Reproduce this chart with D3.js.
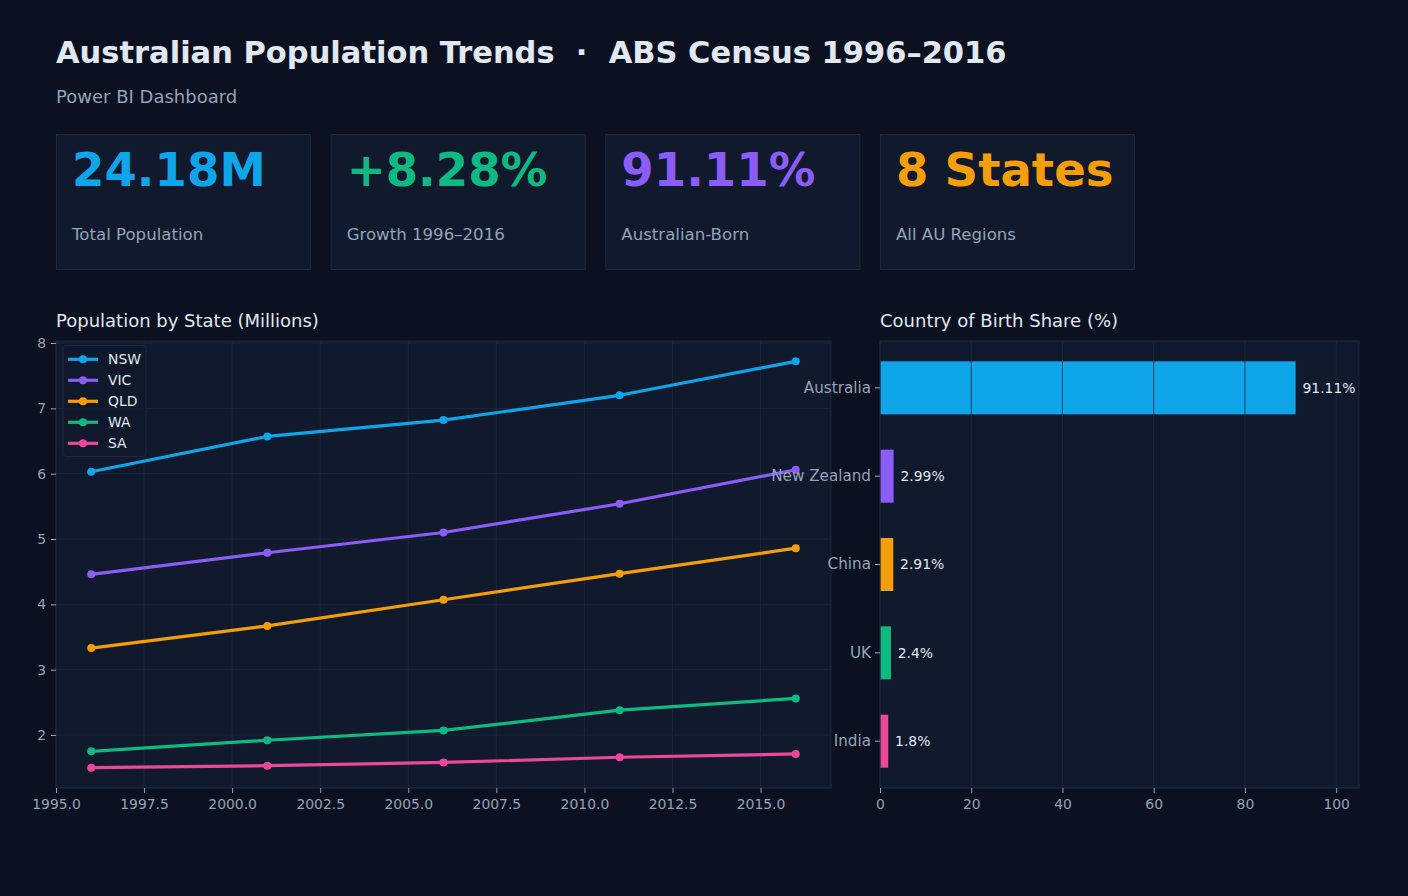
<!DOCTYPE html>
<html><head><meta charset="utf-8">
<script src="https://cdn.jsdelivr.net/npm/d3@7"></script>
<style>
html,body{margin:0;padding:0;background:#0b1120;}
svg{display:block;font-family:"DejaVu Sans",sans-serif;}
text{white-space:pre;}
</style></head>
<body>
<svg id="chart" width="1408" height="896"></svg>
<script>
// ---- data ----
const years = [1996, 2001, 2006, 2011, 2016];
const states = ["NSW", "VIC", "QLD", "WA", "SA"];
const nsw = [6.03, 6.57, 6.82, 7.20, 7.72];
const vic = [4.46, 4.79, 5.10, 5.54, 6.06];
const qld = [3.33, 3.67, 4.07, 4.47, 4.86];
const wa  = [1.75, 1.92, 2.07, 2.38, 2.56];
const sa  = [1.50, 1.53, 1.58, 1.66, 1.71];
const stateColors = ["#0ea5e9", "#8b5cf6", "#f59e0b", "#10b981", "#ec4899"];
const xTicks = [1995.0, 1997.5, 2000.0, 2002.5, 2005.0, 2007.5, 2010.0, 2012.5, 2015.0];
const yTicks = [2, 3, 4, 5, 6, 7, 8];

const countries = ["Australia", "New Zealand", "China", "UK", "India"];
const shares = [91.11, 2.99, 2.91, 2.4, 1.8];
const countryColors = ["#0ea5e9", "#8b5cf6", "#f59e0b", "#10b981", "#ec4899"];
const shareTicks = [0, 20, 40, 60, 80, 100];

const kpiValues = ["24.18M", "+8.28%", "91.11%", "8 States"];
const kpiLabels = ["Total Population", "Growth 1996\u20132016", "Australian-Born", "All AU Regions"];
const kpiColors = ["#0ea5e9", "#10b981", "#8b5cf6", "#f59e0b"];

const BG = "#0b1120", PANEL = "#111a2d", GRID = "#1e293b", MUTED = "#94a3b8", TEXT = "#e2e8f0";

const svg = d3.select("#chart");
svg.append("rect").attr("width", 1408).attr("height", 896).attr("fill", BG);

// ---- header ----
svg.append("text").attr("x", 56).attr("y", 63).attr("fill", TEXT)
  .attr("font-size", "30.5px").attr("font-weight", "bold")
  .text("Australian Population Trends  \u00b7  ABS Census 1996\u20132016");
svg.append("text").attr("x", 56).attr("y", 103).attr("fill", MUTED)
  .attr("font-size", "18px").text("Power BI Dashboard");

// ---- KPI cards ----
const cardX = d3.scaleBand().domain(d3.range(kpiValues.length)).range([56, 1134]).paddingInner(0.075);
kpiValues.forEach((v, i) => {
  const g = svg.append("g").attr("transform", `translate(${cardX(i)},134)`);
  g.append("rect").attr("x", 0.5).attr("y", 0.5).attr("width", cardX.bandwidth()).attr("height", 135)
    .attr("fill", PANEL).attr("stroke", GRID).attr("stroke-width", 1);
  g.append("text").attr("x", 16).attr("y", 52).attr("fill", kpiColors[i])
    .attr("font-size", "46.6px").attr("font-weight", "bold").text(v);
  g.append("text").attr("x", 16).attr("y", 106).attr("fill", MUTED)
    .attr("font-size", "16.6px").text(kpiLabels[i]);
});

// ---- line chart ----
const L = {x0: 56, x1: 831, y0: 341, y1: 788};
svg.append("text").attr("x", 56).attr("y", 327).attr("fill", TEXT).attr("font-size", "18px")
  .text("Population by State (Millions)");
const series = [nsw, vic, qld, wa, sa];
const allVals = series.flat();
const [vmin, vmax] = d3.extent(allVals);
const vpad = (vmax - vmin) * 0.05;
const ypad = (years[years.length-1] - years[0]) * 0.05;
const x = d3.scaleLinear().domain([years[0] - ypad, years[years.length-1] + ypad]).range([L.x0, L.x1]);
const y = d3.scaleLinear().domain([vmin - vpad, vmax + vpad]).range([L.y1, L.y0]);

svg.append("rect").attr("x", L.x0).attr("y", L.y0).attr("width", L.x1 - L.x0).attr("height", L.y1 - L.y0).attr("fill", PANEL);
const gl = svg.append("g");
gl.selectAll(".vg").data(xTicks).join("line")
  .attr("x1", d => x(d)).attr("x2", d => x(d)).attr("y1", L.y0).attr("y2", L.y1)
  .attr("stroke", GRID).attr("stroke-width", 0.8);
gl.selectAll(".hg").data(yTicks).join("line")
  .attr("y1", d => y(d)).attr("y2", d => y(d)).attr("x1", L.x0).attr("x2", L.x1)
  .attr("stroke", GRID).attr("stroke-width", 0.8);
svg.append("rect").attr("x", L.x0).attr("y", L.y0).attr("width", L.x1 - L.x0).attr("height", L.y1 - L.y0)
  .attr("fill", "none").attr("stroke", GRID).attr("stroke-width", 1);

const xAxis = svg.append("g").attr("transform", `translate(0,${L.y1})`)
  .call(d3.axisBottom(x).tickValues(xTicks).tickFormat(d3.format(".1f")).tickSize(5).tickPadding(6.5));
const yAxis = svg.append("g").attr("transform", `translate(${L.x0},0)`)
  .call(d3.axisLeft(y).tickValues(yTicks).tickFormat(d3.format("d")).tickSize(5).tickPadding(5));
[xAxis, yAxis].forEach(a => {
  a.select(".domain").remove();
  a.selectAll(".tick line").attr("stroke", MUTED);
  a.selectAll(".tick text").attr("fill", MUTED).attr("font-size", "13.9px").attr("font-family", "DejaVu Sans");
});

const line = d3.line().x((d, i) => x(years[i])).y(d => y(d));
series.forEach((s, k) => {
  svg.append("path").datum(s).attr("d", line).attr("fill", "none")
    .attr("stroke", stateColors[k]).attr("stroke-width", 3.2).attr("stroke-linejoin", "round");
  svg.selectAll(null).data(s).join("circle")
    .attr("cx", (d, i) => x(years[i])).attr("cy", d => y(d)).attr("r", 4).attr("fill", stateColors[k]);
});

// legend
const lg = svg.append("g");
lg.append("rect").attr("x", 63).attr("y", 345.5).attr("width", 83).attr("height", 111).attr("rx", 3)
  .attr("fill", PANEL).attr("fill-opacity", 0.85).attr("stroke", GRID);
states.forEach((s, k) => {
  const yy = 359.3 + k * 21;
  lg.append("line").attr("x1", 68).attr("x2", 98).attr("y1", yy).attr("y2", yy)
    .attr("stroke", stateColors[k]).attr("stroke-width", 3.2);
  lg.append("circle").attr("cx", 83).attr("cy", yy).attr("r", 4).attr("fill", stateColors[k]);
  lg.append("text").attr("x", 108).attr("y", yy).attr("dy", "0.35em").attr("fill", TEXT)
    .attr("font-size", "13.9px").text(s);
});

// ---- bar chart ----
const B = {x0: 880, x1: 1359, y0: 341, y1: 788};
svg.append("text").attr("x", 880).attr("y", 327).attr("fill", TEXT).attr("font-size", "18px")
  .text("Country of Birth Share (%)");
const bx = d3.scaleLinear().domain([0, 105]).range([B.x0, B.x1]);
const by = d3.scaleBand().domain(countries).range([B.y0, B.y1]).paddingInner(0.4).paddingOuter(0.23);
svg.append("rect").attr("x", B.x0).attr("y", B.y0).attr("width", B.x1 - B.x0).attr("height", B.y1 - B.y0).attr("fill", PANEL);
svg.selectAll(".bar").data(countries).join("rect")
  .attr("x", B.x0).attr("y", d => by(d)).attr("width", (d, i) => bx(shares[i]) - B.x0)
  .attr("height", by.bandwidth()).attr("fill", (d, i) => countryColors[i]);
svg.selectAll(".bg").data(shareTicks).join("line")
  .attr("x1", d => bx(d)).attr("x2", d => bx(d)).attr("y1", B.y0).attr("y2", B.y1)
  .attr("stroke", GRID).attr("stroke-width", 0.8);
svg.append("rect").attr("x", B.x0).attr("y", B.y0).attr("width", B.x1 - B.x0).attr("height", B.y1 - B.y0)
  .attr("fill", "none").attr("stroke", GRID).attr("stroke-width", 1);
svg.selectAll(".vl").data(countries).join("text")
  .attr("x", (d, i) => bx(shares[i] + 1.5)).attr("y", d => by(d) + by.bandwidth() / 2).attr("dy", "0.35em")
  .attr("fill", TEXT).attr("font-size", "13.9px").text((d, i) => shares[i] + "%");

const bxAxis = svg.append("g").attr("transform", `translate(0,${B.y1})`)
  .call(d3.axisBottom(bx).tickValues(shareTicks).tickFormat(d3.format("d")).tickSize(5).tickPadding(6.5));
const byAxis = svg.append("g").attr("transform", `translate(${B.x0},0)`)
  .call(d3.axisLeft(by).tickSize(5).tickPadding(4));
[bxAxis, byAxis].forEach(a => {
  a.select(".domain").remove();
  a.selectAll(".tick line").attr("stroke", MUTED);
  a.selectAll(".tick text").attr("fill", MUTED).attr("font-family", "DejaVu Sans");
});
bxAxis.selectAll(".tick text").attr("font-size", "13.9px");
byAxis.selectAll(".tick text").attr("font-size", "15.2px");
</script>
</body></html>
